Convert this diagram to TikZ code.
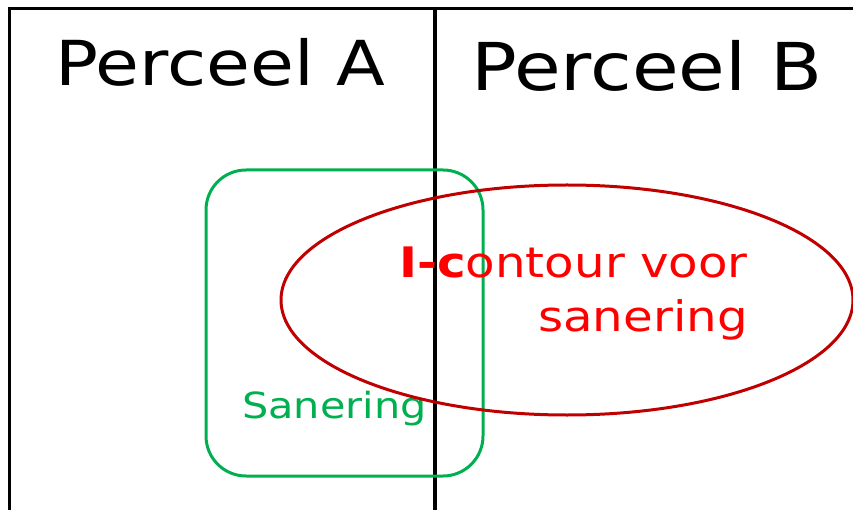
\documentclass[tikz,border=0pt]{standalone}
\usepackage{fontspec}
\setmainfont{DejaVu Sans}[FakeStretch=1.15]
\definecolor{sangreen}{RGB}{0,176,80}
\definecolor{contourred}{RGB}{192,0,0}
\definecolor{textred}{RGB}{255,0,0}
\tikzset{
  label/.style={inner sep=0pt, anchor=base west},
}
\begin{document}
\begin{tikzpicture}[x=1pt, y=-1pt]
  \useasboundingbox (0,0) rectangle (853,510);
  % frame of the two plots
  \draw[line width=3pt] (9,510) -- (9,9) -- (853,9);
  \draw[line width=4pt] (435,9) -- (435,510);
  % plot names
  \node[label, font=\fontsize{62}{62}\selectfont] (percA) at (55,86) {Perceel A};
  \node[label, font=\fontsize{66}{66}\selectfont] (percB) at (471,91) {Perceel B};
  % remediation area
  \draw[sangreen, line width=3pt, rounded corners=40pt] (206,170) rectangle (483,476);
  \node[label, text=sangreen, font=\fontsize{36}{36}\selectfont] (sanering) at (242,418) {Sanering};
  % I-contour
  \draw[contourred, line width=3pt] (567,300) ellipse [x radius=286, y radius=115];
  \node[label, anchor=base east, text=textred, font=\fontsize{42}{42}\selectfont] (icontour) at (748,278) {{\bfseries I-c}ontour voor};
  \node[label, anchor=base east, text=textred, font=\fontsize{42}{42}\selectfont] (icontour2) at (748,331) {sanering};
\end{tikzpicture}
\end{document}
